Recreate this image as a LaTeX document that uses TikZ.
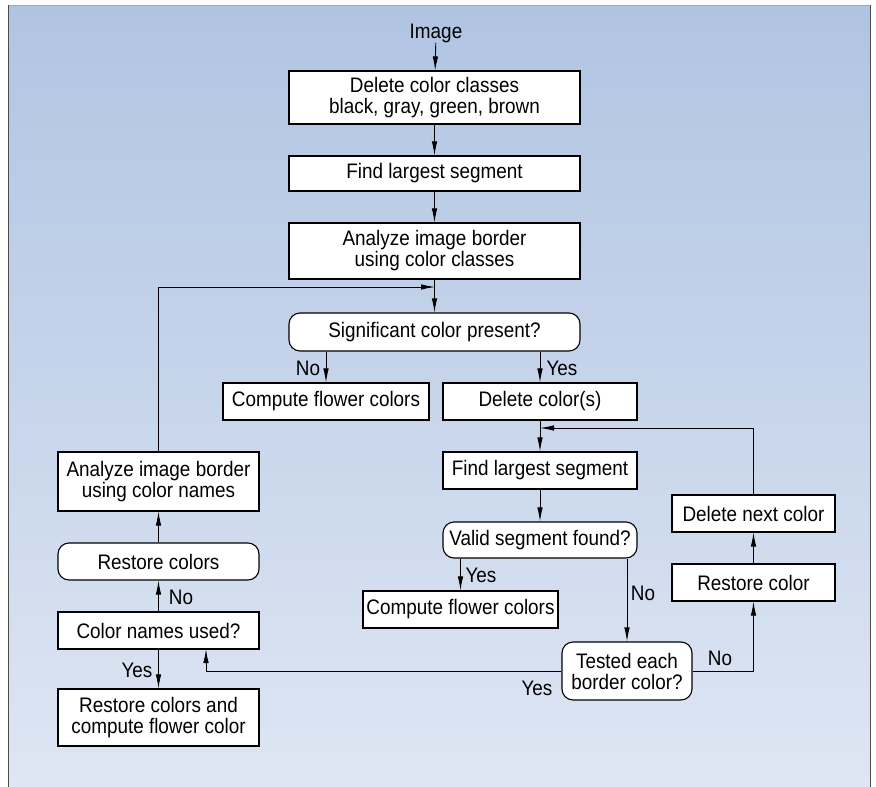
\documentclass[tikz,border=0pt]{standalone}
\usepackage{fontspec}
\setmainfont{Liberation Sans}[FakeStretch=0.9]
\usepackage{tikz}
\usetikzlibrary{positioning, shapes, calc, arrows.meta}

\definecolor{bgtop}{RGB}{176,196,226}
\definecolor{bgbot}{RGB}{222,230,243}

\tikzset{
	box/.style={draw, fill=white, line width=1.1pt, align=center, inner sep=2pt, font=\fontsize{21}{21}\selectfont},
	rbox/.style={box, rounded corners=11pt},
	lab/.style={font=\fontsize{21}{21}\selectfont, inner sep=0pt},
	link/.style={line width=0.9pt, -{Latex[length=14pt,width=5.5pt]}},
	plain/.style={line width=0.9pt}
}

\begin{document}
\begin{tikzpicture}[x=1pt, y=-1pt]
	\useasboundingbox (0,0) rectangle (876,787);
	\shade [top color=bgtop, bottom color=bgbot] (8,5) rectangle (870,787);
	\draw [gray!70, line width=1pt] (8,5) -- (870,5);
	\draw [black!70, line width=1pt] (8,787) -- (8,5);
	\draw [black!70, line width=1pt] (870,5) -- (870,787);

	% main column
	\node [lab] (img) at (436,33) {Image};
	\node [box, minimum width=291, minimum height=53] (delcls) at (434.5,97.5) {Delete color classes\\black, gray, green, brown};
	\node [box, minimum width=291, minimum height=35] (findseg) at (434.5,173.5) {Find largest segment};
	\node [box, minimum width=291, minimum height=56] (anacls) at (434.5,251) {Analyze image border\\using color classes};
	\node [rbox, minimum width=291, minimum height=38] (sigcol) at (434.5,332) {Significant color present?};
	\node [box, minimum width=206, minimum height=37] (flowA) at (326,401.5) {Compute flower colors};
	\node [box, minimum width=194, minimum height=37] (delcol) at (540,401.5) {Delete color(s)};
	\node [box, minimum width=194, minimum height=37] (findsegB) at (540,470.5) {Find largest segment};
	\node [rbox, minimum width=194, minimum height=36] (valid) at (540,540) {Valid segment found?};
	\node [box, minimum width=195, minimum height=37] (flowB) at (460.5,609.5) {Compute flower colors};
	\node [rbox, minimum width=130, minimum height=58] (tested) at (627,671) {Tested each\\border color?};

	% right loop
	\node [box, minimum width=163, minimum height=37] (delnext) at (753.5,513.5) {Delete next color};
	\node [box, minimum width=163, minimum height=37] (restcol) at (753.5,582.5) {Restore color};

	% left column
	\node [box, minimum width=201, minimum height=59] (ananam) at (158.5,481.5) {Analyze image border\\using color names};
	\node [rbox, minimum width=201, minimum height=37] (restcols) at (158.5,561.5) {Restore colors};
	\node [box, minimum width=201, minimum height=37] (namused) at (158.5,630.5) {Color names used?};
	\node [box, minimum width=201, minimum height=57] (restcomp) at (158.5,717.5) {Restore colors and\\compute flower color};

	\coordinate (joinA) at (435,287);
	\coordinate (joinB) at (540,428);
	\coordinate (namin) at (206,649);

	\draw [link] (img) -- (delcls);
	\draw [link] (delcls) -- (findseg);
	\draw [link] (findseg) -- (anacls);
	\draw [link] (anacls) -- (sigcol);
	\draw [link] (ananam.north) |- (joinA);
	\draw [link] (flowA.north |- sigcol.south) -- (flowA.north);
	\draw [link] (delcol.north |- sigcol.south) -- (delcol.north);
	\draw [link] (delcol) -- (findsegB);
	\draw [link] (delnext.north) |- (joinB);
	\draw [link] (findsegB) -- (valid);
	\draw [link] (flowB.north |- valid.south) -- (flowB.north);
	\draw [link] (tested.north |- valid.south) -- (tested.north);
	\draw [link] (tested.east) -| (restcol.south);
	\draw [link] (restcol) -- (delnext);
	\draw [link] (tested.west) -| (namin);
	\draw [link] (namused) -- (restcols);
	\draw [link] (restcols) -- (ananam);
	\draw [link] (namused) -- (restcomp);

	% branch labels
	\node [lab] (noA) at (308,368) {No};
	\node [lab] (yesA) at (562,368) {Yes};
	\node [lab] (yesB) at (481,575) {Yes};
	\node [lab] (noB) at (643,593) {No};
	\node [lab] (noC) at (720,658) {No};
	\node [lab] (yesC) at (537,688) {Yes};
	\node [lab] (noD) at (181,597) {No};
	\node [lab] (yesD) at (137,670) {Yes};
\end{tikzpicture}
\end{document}
